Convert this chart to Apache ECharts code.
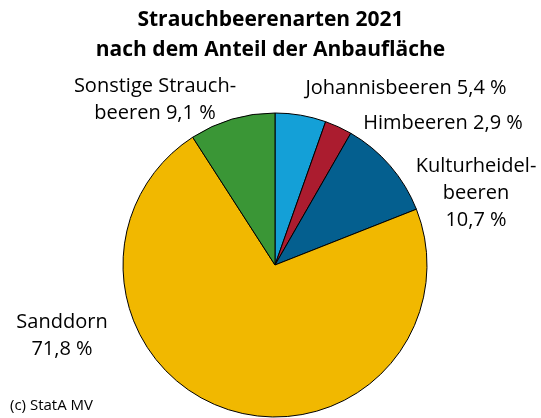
<!DOCTYPE html>
<html lang="de">
<head>
    <meta charset="UTF-8">
    <title>Strauchbeerenarten 2021</title>
    <script src="https://cdn.jsdelivr.net/npm/echarts@6/dist/echarts.min.js"></script>
    <style>
        body { margin: 0; background: #fff; }
        #main { width: 541px; height: 418px; }
    </style>
</head>
<body>
<div id="main"></div>
<script type="text/javascript">
    // Daten: Anteil an der Anbaufläche in %
    var categories = ['Johannisbeeren', 'Himbeeren', 'Kulturheidelbeeren', 'Sanddorn', 'Sonstige Strauchbeeren'];
    var shares = [5.4, 2.9, 10.7, 71.8, 9.1];
    var colors = ['#14a0d7', '#ab1c2f', '#045f8f', '#f1b800', '#3a9636'];

    // Beschriftung mit Zeilenumbruechen wie im Original
    var labelNames = {
        'Johannisbeeren': 'Johannisbeeren ',
        'Himbeeren': 'Himbeeren ',
        'Kulturheidelbeeren': 'Kulturheidel-\nbeeren\n',
        'Sanddorn': 'Sanddorn\n',
        'Sonstige Strauchbeeren': 'Sonstige Strauch-\nbeeren '
    };
    // Lage der Beschriftungen (Mittelpunkt des Textblocks)
    var labelPos = [[406, 88], [443, 123], [476, 193], [62, 336], [155, 100]];

    var myChart = echarts.init(document.getElementById('main'));

    var option = {
        animation: false,
        title: {
            text: 'Strauchbeerenarten 2021\nnach dem Anteil der Anbaufläche',
            left: 'center',
            top: 0,
            textStyle: {
                fontFamily: 'Open Sans',
                fontSize: 21,
                fontWeight: 'bold',
                lineHeight: 30,
                color: '#000'
            }
        },
        graphic: [{
            type: 'text',
            left: 10,
            top: 398,
            style: { text: '(c) StatA MV', font: '15px "Open Sans"', fill: '#000' }
        }],
        series: [{
            type: 'pie',
            center: [275, 265],
            radius: 152,
            startAngle: 90,
            clockwise: true,
            silent: true,
            itemStyle: { borderColor: '#000', borderWidth: 1 },
            label: {
                show: true,
                position: 'outside',
                fontFamily: 'Open Sans',
                fontSize: 20,
                lineHeight: 27,
                color: '#000',
                align: 'center',
                overflow: 'none',
                formatter: function (p) {
                    return labelNames[p.name] + String(p.value).replace('.', ',') + ' %';
                }
            },
            labelLine: { show: false },
            labelLayout: function (p) {
                var pos = labelPos[p.dataIndex];
                return { x: pos[0], y: pos[1], align: 'center', verticalAlign: 'middle' };
            },
            data: categories.map(function (c, i) {
                return { name: c, value: shares[i], itemStyle: { color: colors[i] } };
            })
        }]
    };

    myChart.setOption(option);
</script>
</body>
</html>
